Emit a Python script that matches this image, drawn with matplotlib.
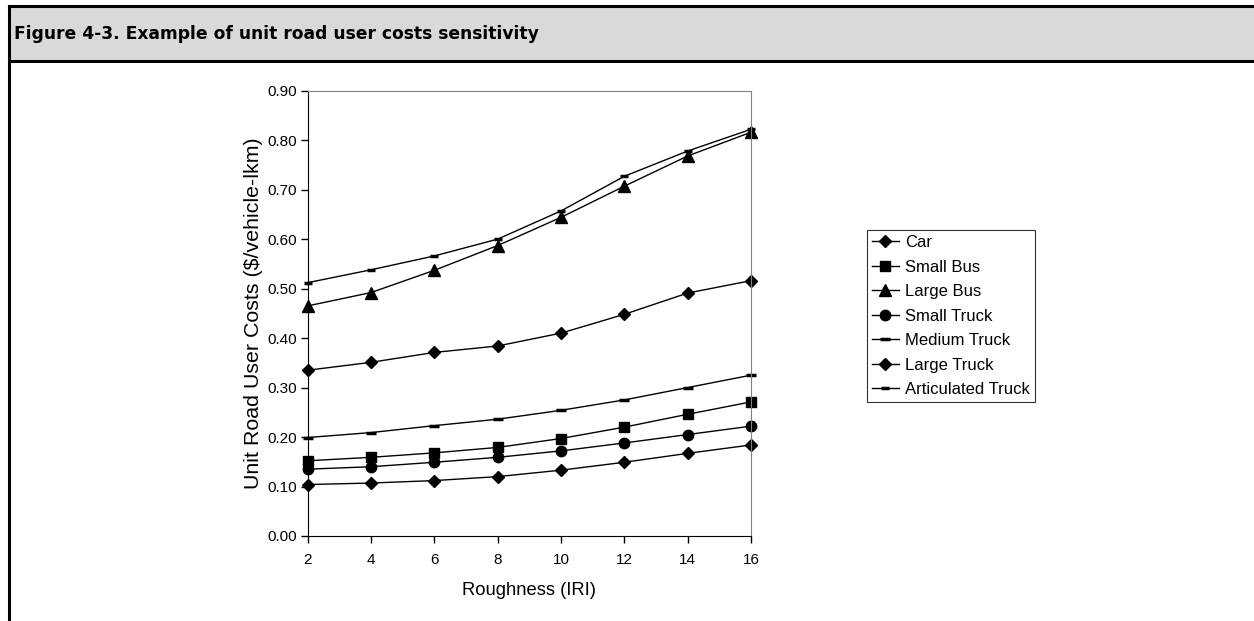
import matplotlib.pyplot as plt
from matplotlib.patches import Rectangle
from matplotlib.lines import Line2D

# data
roughness = [2, 4, 6, 8, 10, 12, 14, 16]
car = [0.104, 0.107, 0.112, 0.120, 0.133, 0.149, 0.167, 0.184]
small_bus = [0.152, 0.159, 0.168, 0.179, 0.197, 0.220, 0.246, 0.271]
large_bus = [0.465, 0.492, 0.537, 0.587, 0.644, 0.707, 0.768, 0.816]
small_truck = [0.135, 0.140, 0.149, 0.159, 0.172, 0.188, 0.205, 0.222]
medium_truck = [0.199, 0.209, 0.223, 0.236, 0.254, 0.275, 0.300, 0.325]
large_truck = [0.335, 0.351, 0.371, 0.384, 0.410, 0.448, 0.491, 0.516]
artic_truck = [0.512, 0.538, 0.566, 0.600, 0.657, 0.727, 0.778, 0.822]

series = [
    ("Car", car, "D", 6.5),
    ("Small Bus", small_bus, "s", 7.5),
    ("Large Bus", large_bus, "^", 8.5),
    ("Small Truck", small_truck, "o", 7.5),
    ("Medium Truck", medium_truck, "_", 7),
    ("Large Truck", large_truck, "D", 6.5),
    ("Articulated Truck", artic_truck, "_", 5.5),
]

fig = plt.figure(figsize=(12.54, 6.21), dpi=100)

# header band and frame
fig.patches.append(Rectangle((0.008, 0.9018), 0.992, 0.0882, transform=fig.transFigure,
                             facecolor="#d9d9d9", edgecolor="none", zorder=0))
fig.add_artist(Line2D([0.007, 1.0], [0.990, 0.990], transform=fig.transFigure, color="black", lw=2.2))
fig.add_artist(Line2D([0.007, 1.0], [0.9018, 0.9018], transform=fig.transFigure, color="black", lw=2.2))
fig.add_artist(Line2D([0.0075, 0.0075], [0.0, 0.991], transform=fig.transFigure, color="black", lw=2.2))
fig.text(0.011, 0.946, "Figure 4-3. Example of unit road user costs sensitivity",
         fontsize=12.3, fontweight="bold", family="DejaVu Sans", va="center", ha="left")

ax = fig.add_axes([0.2454, 0.1369, 0.3535, 0.7171])
for name, vals, mk, ms in series:
    mew = 2.5 if mk == "_" else 1
    ax.plot(roughness, vals, color="black", lw=1, marker=mk, markersize=ms,
            markeredgewidth=mew, label=name, clip_on=False)

ax.set_xlim(2, 16)
ax.set_ylim(0, 0.9)
ax.set_xticks(roughness)
ax.set_yticks([i / 10 for i in range(10)])
ax.set_yticklabels([f"{i / 10:.2f}" for i in range(10)])
ax.tick_params(labelsize=11, direction="out", length=5, width=1, pad=3)
ax.tick_params(axis="x", pad=7)
for lab in ax.get_xticklabels() + ax.get_yticklabels():
    lab.set_family("Liberation Sans")
ax.spines["top"].set_color("#808080")
ax.spines["right"].set_color("#808080")
ax.set_xlabel("Roughness (IRI)", fontsize=13.2, family="Liberation Sans")
ax.set_ylabel("Unit Road User Costs ($/vehicle-lkm)", fontsize=15.4, family="Liberation Sans")
ax.xaxis.set_label_coords(0.5, -0.104)
ax.yaxis.set_label_coords(-0.101, 0.5)

leg = ax.legend(loc="upper left", bbox_to_anchor=(1.262, 0.687), frameon=True, fancybox=False,
                edgecolor="black", prop={"family": "Liberation Sans", "size": 12},
                handlelength=1.6, handletextpad=0.35, labelspacing=0.57, borderpad=0.3,
                borderaxespad=0)
leg.get_frame().set_linewidth(0.8)

fig.savefig("out.png", dpi=100)
